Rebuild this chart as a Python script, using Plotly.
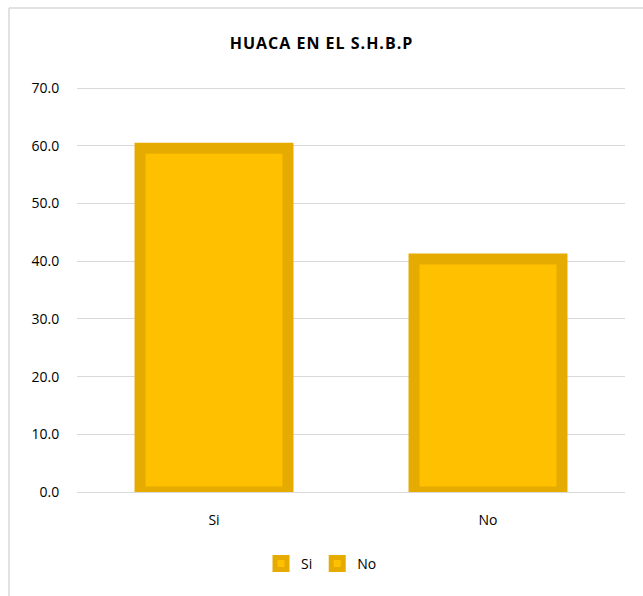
import plotly.graph_objects as go

categories = ["Si", "No"]
values = [59.6, 40.4]
y_ticks = [0, 10, 20, 30, 40, 50, 60, 70]

fill_color = "#FFC000"
edge_color = "#E5AB00"

fig = go.Figure()
for cat, val in zip(categories, values):
    fig.add_trace(go.Bar(
        x=[cat], y=[val], name=cat,
        width=0.54,
        marker=dict(color=fill_color, line=dict(color=edge_color, width=11)),
        hoverinfo="x+y",
    ))

W, H = 643, 596
L, R, T, B = 77, 18, 87, 104
pw, ph = W - L - R, H - T - B

def px_x(p):
    return (p - L) / pw

def px_y(p):
    return (H - B - p) / ph

fig.update_layout(
    width=W, height=H,
    margin=dict(l=L, r=R, t=T, b=B),
    paper_bgcolor="white", plot_bgcolor="white",
    barmode="overlay",
    font=dict(family="Open Sans, Liberation Sans, sans-serif", size=13, color="#404040"),
    title=dict(text="<b>HUACA EN EL S.H.B.P</b>", x=0.5, xref="container",
               y=1 - 43 / H, yref="container", yanchor="middle", xanchor="center",
               font=dict(size=16, color="#000000", family="Open Sans, sans-serif")),
    showlegend=True,
    legend=dict(orientation="h", xref="container", yref="container",
                x=0.5, xanchor="center", y=1 - 564 / H, yanchor="middle",
                font=dict(size=14, color="#000000"), itemwidth=30,
                traceorder="normal"),
    xaxis=dict(showgrid=False, showline=True, linecolor="#D9D9D9", linewidth=1,
               ticks="outside", ticklen=15, tickcolor="rgba(0,0,0,0)",
               tickfont=dict(size=14, color="#000000"), fixedrange=True),
    yaxis=dict(range=[0, 70.2], tickvals=y_ticks, tickformat=".1f",
               showgrid=True, gridcolor="#D9D9D9", gridwidth=1,
               zeroline=False, showline=False,
               ticks="outside", ticklen=14, tickcolor="rgba(0,0,0,0)",
               tickfont=dict(size=14, color="#000000")),
    shapes=[
        dict(type="line", xref="paper", yref="paper",
             x0=px_x(9), x1=px_x(9), y0=px_y(8), y1=px_y(H + 20),
             line=dict(color="#D9D9D9", width=1.5), layer="below"),
        dict(type="line", xref="paper", yref="paper",
             x0=px_x(9), x1=px_x(W + 20), y0=px_y(8), y1=px_y(8),
             line=dict(color="#D9D9D9", width=1.5), layer="below"),
    ],
)

post = (
    "document.body.style.margin='0px';"
    "var t=document.querySelector('.gtitle');"
    "if(t){t.style.letterSpacing='1px';}"
)
fig.write_html("out.html", post_script=post, config={"displayModeBar": False})
